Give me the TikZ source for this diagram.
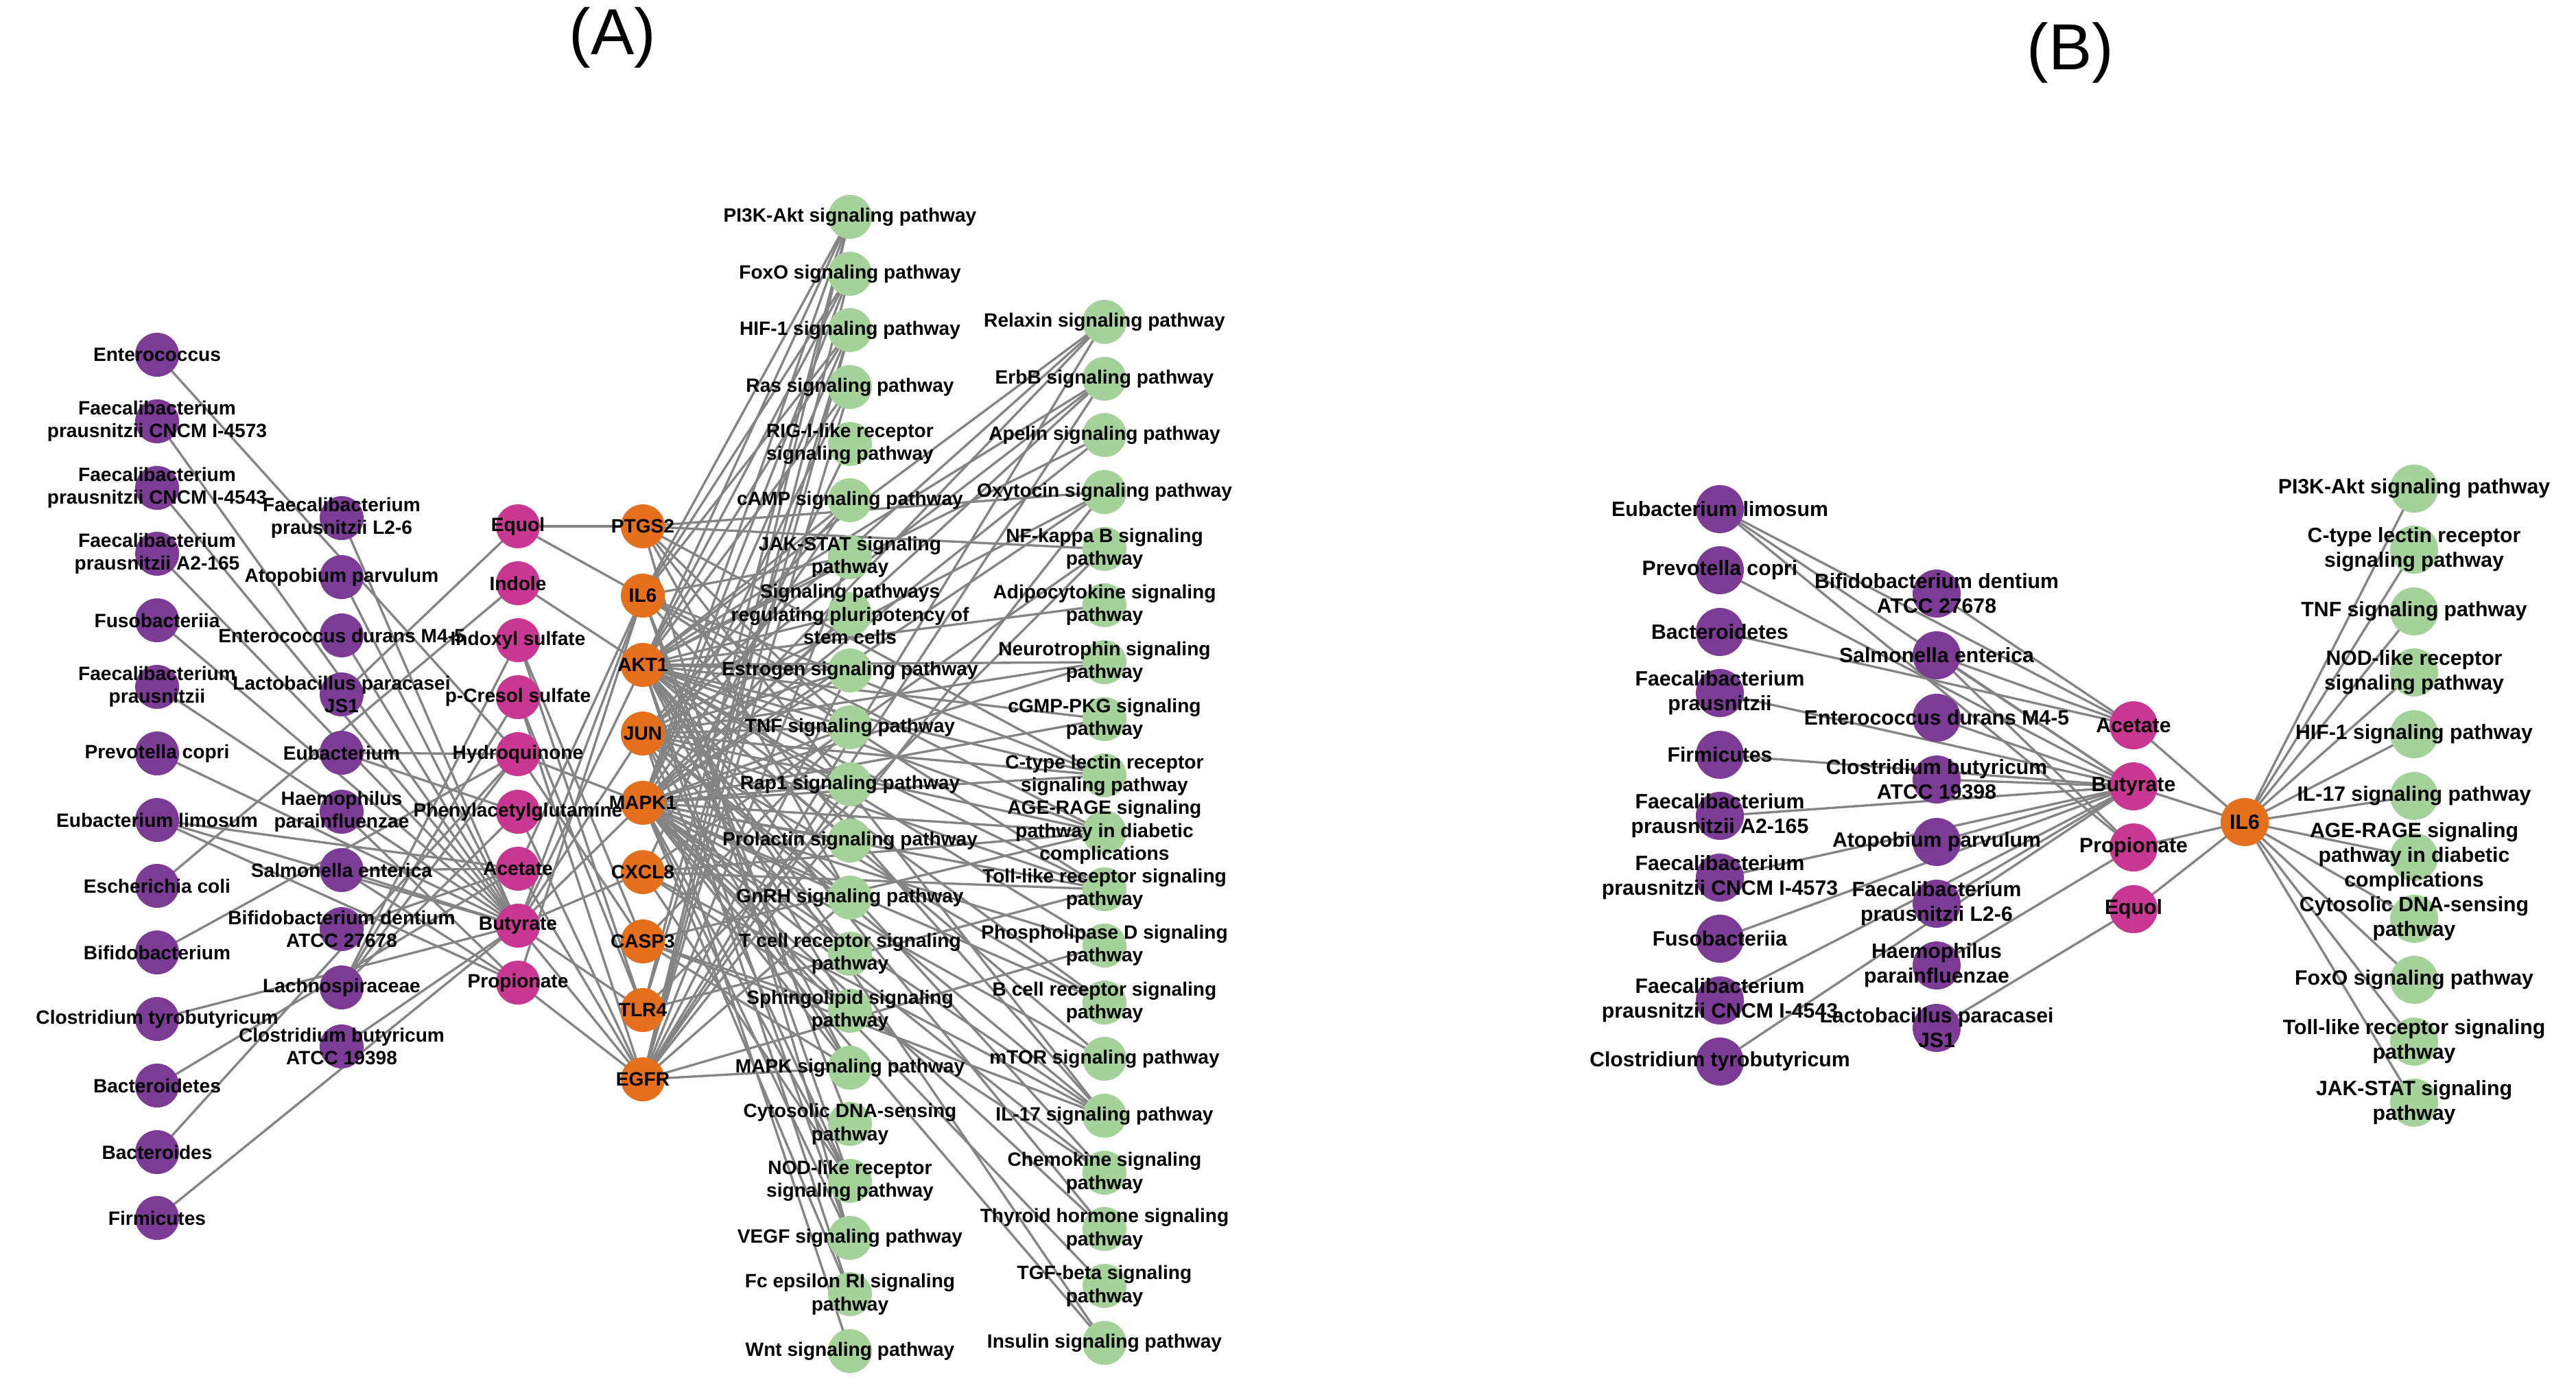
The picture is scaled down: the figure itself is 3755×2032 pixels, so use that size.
\documentclass[tikz,border=0pt]{standalone}
\usepackage{fontspec}
\setmainfont{Liberation Sans}
\definecolor{bac}{HTML}{7C3C96}
\definecolor{met}{HTML}{C83791}
\definecolor{gen}{HTML}{E4701E}
\definecolor{pw}{HTML}{A5D29B}
\definecolor{edgegray}{HTML}{848484}
\pgfdeclarelayer{bg}
\pgfsetlayers{bg,main}
\tikzset{
  nodeA/.style={circle, inner sep=0pt, minimum size=6.4mm},
  nodeB/.style={circle, inner sep=0pt, minimum size=7mm},
  bacA/.style={nodeA, fill=bac}, metA/.style={nodeA, fill=met},
  genA/.style={nodeA, fill=gen}, pwA/.style={nodeA, fill=pw},
  bacB/.style={nodeB, fill=bac}, metB/.style={nodeB, fill=met},
  genB/.style={nodeB, fill=gen}, pwB/.style={nodeB, fill=pw},
  lblA/.style={font=\fontsize{8}{9.5}\selectfont\bfseries, align=center, inner sep=0pt, text=black},
  lblB/.style={font=\fontsize{8.6}{10.2}\selectfont\bfseries, align=center, inner sep=0pt, text=black},
  ttl/.style={font=\fontsize{27}{30}\selectfont, inner sep=0pt},
  edge/.style={draw=edgegray, line width=0.95pt}
}
\newcommand{\NA}[4]{\node[#1, label={[lblA]center:{#4}}] (#2) at #3 {};}
\newcommand{\NB}[4]{\node[#1, label={[lblB]center:{#4}}] (#2) at #3 {};}
\begin{document}
\begin{tikzpicture}[x=0.1mm, y=-0.1mm]
\useasboundingbox (0,0) rectangle (3755,2032);
\node[ttl] (titleA) at (893,55) {(A)};
\node[ttl] (titleB) at (3018,77) {(B)};
% ---------------- Panel A: bacteria column 1
\NA{bacA}{aEnt}{(229,517)}{Enterococcus}
\NA{bacA}{aFpC}{(229,614)}{Faecalibacterium\\prausnitzii CNCM I-4573}
\NA{bacA}{aFpD}{(229,711)}{Faecalibacterium\\prausnitzii CNCM I-4543}
\NA{bacA}{aFpA}{(229,807)}{Faecalibacterium\\prausnitzii A2-165}
\NA{bacA}{aFuso}{(229,904)}{Fusobacteriia}
\NA{bacA}{aFp}{(229,1001)}{Faecalibacterium\\prausnitzii}
\NA{bacA}{aPrev}{(229,1098)}{Prevotella copri}
\NA{bacA}{aElim}{(229,1195)}{Eubacterium limosum}
\NA{bacA}{aEcoli}{(229,1291)}{Escherichia coli}
\NA{bacA}{aBifi}{(229,1388)}{Bifidobacterium}
\NA{bacA}{aCtyro}{(229,1485)}{Clostridium tyrobutyricum}
\NA{bacA}{aBdtes}{(229,1582)}{Bacteroidetes}
\NA{bacA}{aBdes}{(229,1679)}{Bacteroides}
\NA{bacA}{aFirm}{(229,1775)}{Firmicutes}
% bacteria column 2
\NA{bacA}{aFpL}{(498,755)}{Faecalibacterium\\prausnitzii L2-6}
\NA{bacA}{aAtop}{(498,841)}{Atopobium parvulum}
\NA{bacA}{aEdur}{(498,926)}{Enterococcus durans M4-5}
\NA{bacA}{aLact}{(498,1012)}{Lactobacillus paracasei\\JS1}
\NA{bacA}{aEub}{(498,1097)}{Eubacterium}
\NA{bacA}{aHaem}{(498,1183)}{Haemophilus\\parainfluenzae}
\NA{bacA}{aSalm}{(498,1268)}{Salmonella enterica}
\NA{bacA}{aBden}{(498,1354)}{Bifidobacterium dentium\\ATCC 27678}
\NA{bacA}{aLach}{(498,1439)}{Lachnospiraceae}
\NA{bacA}{aCbut}{(498,1525)}{Clostridium butyricum\\ATCC 19398}
% metabolites
\NA{metA}{aEquol}{(755,767)}{Equol}
\NA{metA}{aIndole}{(755,850)}{Indole}
\NA{metA}{aIndox}{(755,933)}{Indoxyl sulfate}
\NA{metA}{aPcres}{(755,1016)}{p-Cresol sulfate}
\NA{metA}{aHydro}{(755,1099)}{Hydroquinone}
\NA{metA}{aPag}{(755,1183)}{Phenylacetylglutamine}
\NA{metA}{aAcet}{(755,1266)}{Acetate}
\NA{metA}{aButy}{(755,1349)}{Butyrate}
\NA{metA}{aProp}{(755,1432)}{Propionate}
% genes
\NA{genA}{gPtgs}{(937,767)}{PTGS2}
\NA{genA}{gIl}{(937,868)}{IL6}
\NA{genA}{gAkt}{(937,969)}{AKT1}
\NA{genA}{gJun}{(937,1069)}{JUN}
\NA{genA}{gMapk}{(937,1170)}{MAPK1}
\NA{genA}{gCxcl}{(937,1271)}{CXCL8}
\NA{genA}{gCasp}{(937,1372)}{CASP3}
\NA{genA}{gTlr}{(937,1472)}{TLR4}
\NA{genA}{gEgfr}{(937,1573)}{EGFR}
% pathways column 1
\NA{pwA}{pPi}{(1239,316)}{PI3K-Akt signaling pathway}
\NA{pwA}{pFoxo}{(1239,399)}{FoxO signaling pathway}
\NA{pwA}{pHif}{(1239,481)}{HIF-1 signaling pathway}
\NA{pwA}{pRas}{(1239,564)}{Ras signaling pathway}
\NA{pwA}{pRig}{(1239,647)}{RIG-I-like receptor\\signaling pathway}
\NA{pwA}{pCamp}{(1239,729)}{cAMP signaling pathway}
\NA{pwA}{pJak}{(1239,812)}{JAK-STAT signaling\\pathway}
\NA{pwA}{pPlur}{(1239,895)}{Signaling pathways\\regulating pluripotency of\\stem cells}
\NA{pwA}{pEstr}{(1239,977)}{Estrogen signaling pathway}
\NA{pwA}{pTnf}{(1239,1060)}{TNF signaling pathway}
\NA{pwA}{pRap}{(1239,1143)}{Rap1 signaling pathway}
\NA{pwA}{pProl}{(1239,1225)}{Prolactin signaling pathway}
\NA{pwA}{pGnrh}{(1239,1308)}{GnRH signaling pathway}
\NA{pwA}{pTcell}{(1239,1390)}{T cell receptor signaling\\pathway}
\NA{pwA}{pSphi}{(1239,1473)}{Sphingolipid signaling\\pathway}
\NA{pwA}{pMapk}{(1239,1556)}{MAPK signaling pathway}
\NA{pwA}{pCyto}{(1239,1638)}{Cytosolic DNA-sensing\\pathway}
\NA{pwA}{pNod}{(1239,1721)}{NOD-like receptor\\signaling pathway}
\NA{pwA}{pVegf}{(1239,1804)}{VEGF signaling pathway}
\NA{pwA}{pFce}{(1239,1886)}{Fc epsilon RI signaling\\pathway}
\NA{pwA}{pWnt}{(1239,1969)}{Wnt signaling pathway}
% pathways column 2
\NA{pwA}{qRelax}{(1610,469)}{Relaxin signaling pathway}
\NA{pwA}{qErbb}{(1610,552)}{ErbB signaling pathway}
\NA{pwA}{qApel}{(1610,634)}{Apelin signaling pathway}
\NA{pwA}{qOxy}{(1610,717)}{Oxytocin signaling pathway}
\NA{pwA}{qNfkb}{(1610,800)}{NF-kappa B signaling\\pathway}
\NA{pwA}{qAdipo}{(1610,882)}{Adipocytokine signaling\\pathway}
\NA{pwA}{qNeuro}{(1610,965)}{Neurotrophin signaling\\pathway}
\NA{pwA}{qCgmp}{(1610,1048)}{cGMP-PKG signaling\\pathway}
\NA{pwA}{qCtype}{(1610,1130)}{C-type lectin receptor\\signaling pathway}
\NA{pwA}{qAge}{(1610,1213)}{AGE-RAGE signaling\\pathway in diabetic\\complications}
\NA{pwA}{qToll}{(1610,1296)}{Toll-like receptor signaling\\pathway}
\NA{pwA}{qPld}{(1610,1378)}{Phospholipase D signaling\\pathway}
\NA{pwA}{qBcell}{(1610,1461)}{B cell receptor signaling\\pathway}
\NA{pwA}{qMtor}{(1610,1543)}{mTOR signaling pathway}
\NA{pwA}{qIl}{(1610,1626)}{IL-17 signaling pathway}
\NA{pwA}{qChemo}{(1610,1709)}{Chemokine signaling\\pathway}
\NA{pwA}{qThyr}{(1610,1791)}{Thyroid hormone signaling\\pathway}
\NA{pwA}{qTgfb}{(1610,1874)}{TGF-beta signaling\\pathway}
\NA{pwA}{qIns}{(1610,1957)}{Insulin signaling pathway}
% ---------------- Panel B
\NB{bacB}{bElim}{(2507,742)}{Eubacterium limosum}
\NB{bacB}{bPrev}{(2507,831)}{Prevotella copri}
\NB{bacB}{bBdtes}{(2507,921)}{Bacteroidetes}
\NB{bacB}{bFp}{(2507,1010)}{Faecalibacterium\\prausnitzii}
\NB{bacB}{bFirm}{(2507,1100)}{Firmicutes}
\NB{bacB}{bFpA}{(2507,1189)}{Faecalibacterium\\prausnitzii A2-165}
\NB{bacB}{bFpC}{(2507,1279)}{Faecalibacterium\\prausnitzii CNCM I-4573}
\NB{bacB}{bFuso}{(2507,1368)}{Fusobacteriia}
\NB{bacB}{bFpD}{(2507,1458)}{Faecalibacterium\\prausnitzii CNCM I-4543}
\NB{bacB}{bCtyro}{(2507,1547)}{Clostridium tyrobutyricum}
\NB{bacB}{bBden}{(2823,865)}{Bifidobacterium dentium\\ATCC 27678}
\NB{bacB}{bSalm}{(2823,955)}{Salmonella enterica}
\NB{bacB}{bEdur}{(2823,1046)}{Enterococcus durans M4-5}
\NB{bacB}{bCbut}{(2823,1136)}{Clostridium butyricum\\ATCC 19398}
\NB{bacB}{bAtop}{(2823,1227)}{Atopobium parvulum}
\NB{bacB}{bFpL}{(2823,1317)}{Faecalibacterium\\prausnitzii L2-6}
\NB{bacB}{bHaem}{(2823,1407)}{Haemophilus\\parainfluenzae}
\NB{bacB}{bLact}{(2823,1498)}{Lactobacillus paracasei\\JS1}
\NB{metB}{bAcet}{(3110,1057)}{Acetate}
\NB{metB}{bButy}{(3110,1146)}{Butyrate}
\NB{metB}{bProp}{(3110,1235)}{Propionate}
\NB{metB}{bEquol}{(3110,1325)}{Equol}
\NB{genB}{bIl}{(3272,1198)}{IL6}
\NB{pwB}{rPi}{(3519,712)}{PI3K-Akt signaling pathway}
\NB{pwB}{rCtype}{(3519,801)}{C-type lectin receptor\\signaling pathway}
\NB{pwB}{rTnf}{(3519,891)}{TNF signaling pathway}
\NB{pwB}{rNod}{(3519,980)}{NOD-like receptor\\signaling pathway}
\NB{pwB}{rHif}{(3519,1070)}{HIF-1 signaling pathway}
\NB{pwB}{rIl}{(3519,1160)}{IL-17 signaling pathway}
\NB{pwB}{rAge}{(3519,1249)}{AGE-RAGE signaling\\pathway in diabetic\\complications}
\NB{pwB}{rCyto}{(3519,1339)}{Cytosolic DNA-sensing\\pathway}
\NB{pwB}{rFoxo}{(3519,1428)}{FoxO signaling pathway}
\NB{pwB}{rToll}{(3519,1518)}{Toll-like receptor signaling\\pathway}
\NB{pwB}{rJak}{(3519,1607)}{JAK-STAT signaling\\pathway}
% ---------------- edges
\begin{pgfonlayer}{bg}
% A: bacteria -> metabolites
\foreach \s/\t in {aEnt/aHydro, aFpC/aButy, aFpD/aButy, aFpA/aButy, aFuso/aButy, aFp/aButy,
  aPrev/aButy, aElim/aAcet, aElim/aButy, aElim/aProp, aEcoli/aIndole, aBifi/aHydro,
  aCtyro/aButy, aBdtes/aAcet, aBdes/aHydro, aFirm/aButy, aFpL/aButy, aAtop/aButy,
  aEdur/aButy, aLact/aEquol, aEub/aHydro, aEub/aPag, aHaem/aProp, aSalm/aAcet,
  aSalm/aButy, aSalm/aProp, aBden/aAcet, aLach/aIndox, aLach/aPcres, aLach/aHydro,
  aLach/aPag, aCbut/aButy}
  \draw[edge] (\s.center) -- (\t.center);
% A: metabolites -> genes
\foreach \s/\t in {aEquol/gPtgs, aEquol/gIl, aIndole/gAkt, aIndox/gCasp, aIndox/gTlr,
  aPcres/gTlr, aPcres/gEgfr, aHydro/gMapk, aHydro/gCasp, aPag/gEgfr, aAcet/gIl,
  aAcet/gEgfr, aButy/gIl, aButy/gAkt, aButy/gJun, aButy/gMapk, aButy/gCxcl,
  aButy/gTlr, aButy/gEgfr, aProp/gIl, aProp/gEgfr}
  \draw[edge] (\s.center) -- (\t.center);
% A: genes -> pathways
\foreach \g/\lst in {
  gPtgs/{pTnf,pGnrh,pVegf,qOxy,qNfkb,qCtype,qIl},
  gIl/{pPi,pFoxo,pHif,pJak,pTnf,pCyto,pNod,qCtype,qAge,qToll,qIl},
  gAkt/{pPi,pFoxo,pHif,pRas,pCamp,pJak,pPlur,pEstr,pTnf,pRap,pProl,pTcell,pSphi,pMapk,pVegf,pFce,qRelax,qErbb,qApel,qAdipo,qNeuro,qCgmp,qCtype,qAge,qToll,qPld,qBcell,qMtor,qChemo,qThyr,qIns},
  gJun/{pCamp,pEstr,pTnf,pGnrh,pTcell,pMapk,pNod,pWnt,qRelax,qErbb,qOxy,qNeuro,qCtype,qAge,qToll,qBcell,qIl},
  gMapk/{pPi,pFoxo,pHif,pRas,pCamp,pPlur,pEstr,pTnf,pRap,pProl,pGnrh,pTcell,pSphi,pMapk,pNod,pVegf,pFce,qRelax,qErbb,qApel,qOxy,qNeuro,qCgmp,qCtype,qAge,qToll,qPld,qBcell,qMtor,qIl,qChemo,qThyr,qTgfb,qIns},
  gCxcl/{pRig,pNod,qNfkb,qAge,qToll,qIl,qChemo},
  gCasp/{pTnf,pMapk,pSphi,qAge,qIl},
  gTlr/{pPi,pHif,qNfkb,qToll},
  gEgfr/{pPi,pFoxo,pHif,pRas,pJak,pEstr,pRap,pGnrh,pMapk,qRelax,qErbb,qOxy,qPld}}
  {\foreach \p in \lst {\draw[edge] (\g.center) -- (\p.center);}}
% B: bacteria -> metabolites
\foreach \s/\t in {bElim/bAcet, bElim/bButy, bElim/bProp, bPrev/bButy, bBdtes/bAcet,
  bFp/bButy, bFirm/bButy, bFpA/bButy, bFpC/bButy, bFuso/bButy, bFpD/bButy,
  bCtyro/bButy, bBden/bAcet, bSalm/bAcet, bSalm/bButy, bSalm/bProp, bEdur/bButy,
  bCbut/bButy, bAtop/bButy, bFpL/bButy, bHaem/bProp, bLact/bEquol}
  \draw[edge] (\s.center) -- (\t.center);
\foreach \s in {bAcet,bButy,bProp,bEquol}
  \draw[edge] (\s.center) -- (bIl.center);
\foreach \t in {rPi,rCtype,rTnf,rNod,rHif,rIl,rAge,rCyto,rFoxo,rToll,rJak}
  \draw[edge] (bIl.center) -- (\t.center);
\end{pgfonlayer}
\end{tikzpicture}
\end{document}
